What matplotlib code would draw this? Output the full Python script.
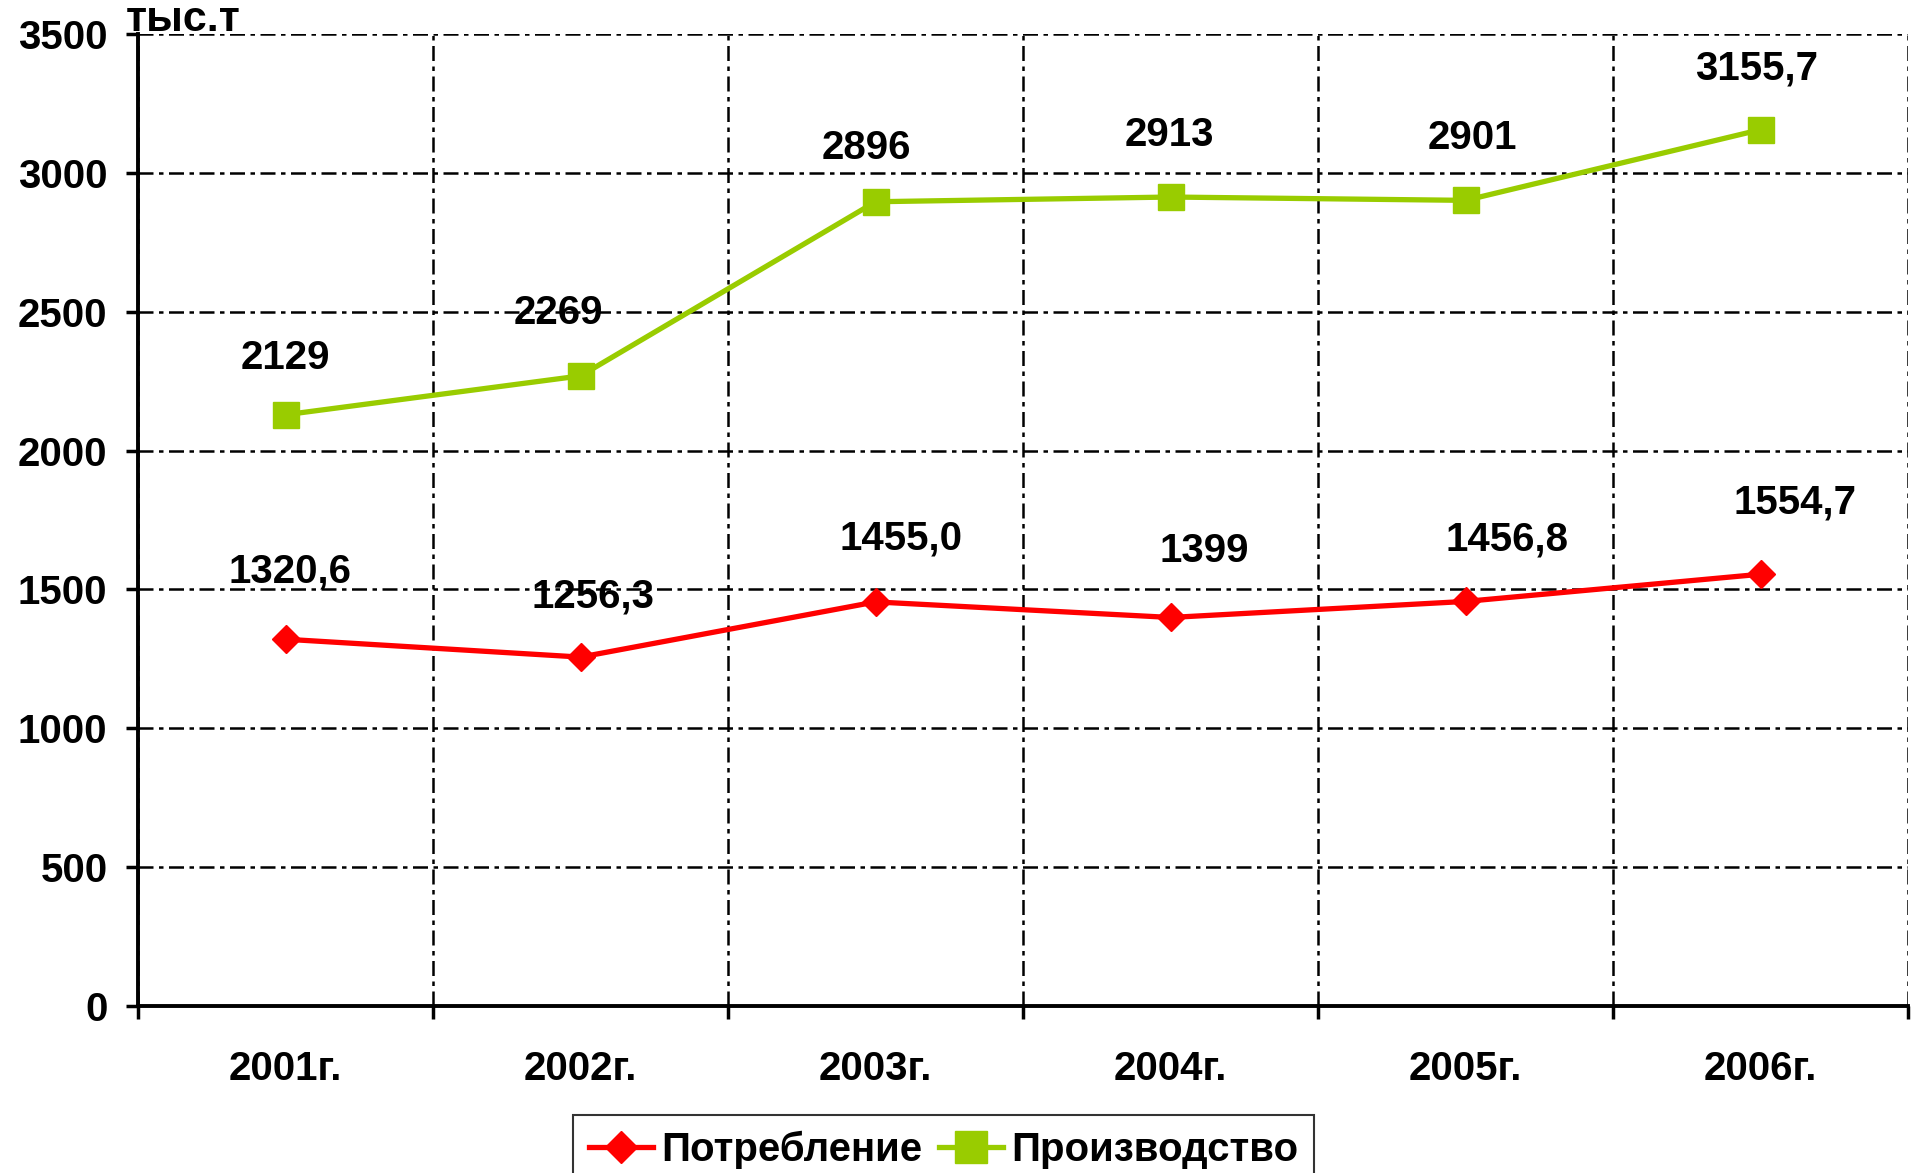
import matplotlib
matplotlib.use("Agg")
from matplotlib import pyplot as plt
from matplotlib.ticker import FixedLocator

plt.rcParams["font.family"] = ["Liberation Sans", "DejaVu Sans"]
plt.rcParams["font.weight"] = "bold"

years = ["2001г.", "2002г.", "2003г.", "2004г.", "2005г.", "2006г."]
consumption = [1320.6, 1256.3, 1455.0, 1399, 1456.8, 1554.7]
production = [2129, 2269, 2896, 2913, 2901, 3155.7]
consumption_labels = ["1320,6", "1256,3", "1455,0", "1399", "1456,8", "1554,7"]
production_labels = ["2129", "2269", "2896", "2913", "2901", "3155,7"]
y_ticks = [0, 500, 1000, 1500, 2000, 2500, 3000, 3500]

RED = "#FF0000"
GREEN = "#99CC00"
GRID_STYLE = (0, (6, 2.2, 1.8, 2.2))

# label offsets in pixels (dx, dy)
cons_off = [(4, 68), (12, 61), (25, 63), (34, 66), (41, 62), (34, 72)]
prod_off = [(0, 57), (-22, 63), (-9, 54), (-1, 62), (7, 62), (-4, 61)]

fig = plt.figure(figsize=(19.12, 11.73), dpi=100)
ax = fig.add_axes([0.0722, 0.1424, 0.9258, 0.8286])

x = list(range(len(years)))
ax.plot(x, consumption, color=RED, lw=3.8, marker="D", ms=14,
        mec=RED, mfc=RED, label="Потребление", zorder=4)
ax.plot(x, production, color=GREEN, lw=3.8, marker="s", ms=19,
        mec=GREEN, mfc=GREEN, label="Производство", zorder=4)

for i in x:
    ax.annotate(consumption_labels[i], (i, consumption[i]),
                xytext=cons_off[i], textcoords="offset pixels",
                ha="center", va="center", fontsize=29, fontweight="bold")
    ax.annotate(production_labels[i], (i, production[i]),
                xytext=prod_off[i], textcoords="offset pixels",
                ha="center", va="center", fontsize=29, fontweight="bold")

ax.set_xlim(-0.5, len(years) - 0.5)
ax.set_ylim(0, 3500)
ax.set_yticks(y_ticks)
ax.set_yticklabels([str(v) for v in y_ticks])

# category boundaries carry the ticks and grid, names sit in between
ax.xaxis.set_major_locator(FixedLocator([i - 0.5 for i in range(len(years) + 1)]))
ax.xaxis.set_minor_locator(FixedLocator(x))
ax.set_xticklabels([], minor=False)
ax.set_xticklabels(years, minor=True)
ax.tick_params(axis="x", which="minor", length=0, pad=32, labelsize=29)
ax.tick_params(axis="x", which="major", length=9, width=2.5, direction="out")
ax.tick_params(axis="y", length=9, width=2.5, pad=13, labelsize=29)

ax.grid(True, which="major", color="black", lw=1.8, linestyle=GRID_STYLE)
for s in ["top", "right"]:
    ax.spines[s].set_visible(False)
for s in ["left", "bottom"]:
    ax.spines[s].set_linewidth(2.8)
    ax.spines[s].set_zorder(5)

fig.text(0.066, 0.983, "тыс.т", fontsize=31, fontweight="bold",
         ha="left", va="center")

leg = fig.legend(loc="upper center", bbox_to_anchor=(0.4935, 0.0494),
                 ncol=2, fontsize=29, frameon=True, fancybox=False,
                 handlelength=1.6, handletextpad=0.2, columnspacing=0.4,
                 borderpad=0.4, borderaxespad=0, markerscale=1.2)
leg.get_frame().set_edgecolor("black")
leg.get_frame().set_linewidth(1.5)

fig.savefig("out.png", dpi=100)
